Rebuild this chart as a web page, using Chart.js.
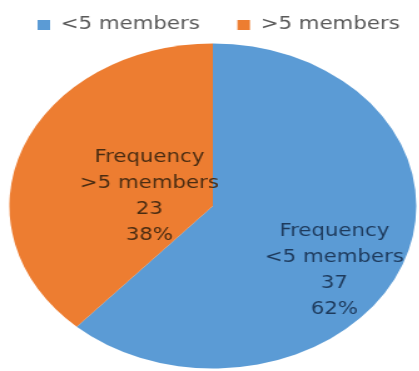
<!DOCTYPE html>
<html>
<head>
<meta charset="utf-8">
<script src="https://cdn.jsdelivr.net/npm/chart.js@4/dist/chart.umd.min.js"></script>
<style>
  html, body { margin: 0; padding: 0; background: #fff; overflow: hidden; }
  #wrap {
    position: absolute; left: 0; top: 0;
    width: 352px; height: 371px;
    transform-origin: 0 0;
    transform: scaleX(1.252);
  }
</style>
</head>
<body>
<div id="wrap"><canvas id="c" width="352" height="371"></canvas></div>
<script>
// Household size groups and how many households fall in each
const categories = ['<5 members', '>5 members'];
const frequency = [37, 23];
const sliceColors = ['#5B9BD5', '#ED7D31'];
const labelTextColors = ['#1E3A5C', '#4A2C12'];

const total = frequency.reduce((a, b) => a + b, 0);
const percentages = frequency.map(v => Math.round(v / total * 100) + '%');

// Multi-line labels drawn inside each slice: title, group, count, share
const sliceLabels = {
  id: 'sliceLabels',
  afterDatasetsDraw(chart, args, opts) {
    const { ctx } = chart;
    const meta = chart.getDatasetMeta(0);
    ctx.save();
    ctx.font = opts.font;
    ctx.textAlign = 'center';
    ctx.textBaseline = 'middle';
    meta.data.forEach((arc, i) => {
      const p = arc.getProps(['x', 'y', 'startAngle', 'endAngle', 'outerRadius'], true);
      const a = p.startAngle + (p.endAngle - p.startAngle) * opts.angleFrac[i];
      const r = p.outerRadius * opts.radiusFrac[i];
      const cx = p.x + Math.cos(a) * r;
      const cy = p.y + Math.sin(a) * r;
      const lines = ['Frequency', categories[i], String(frequency[i]), percentages[i]];
      const top = cy - (lines.length - 1) * opts.lineHeight / 2;
      ctx.fillStyle = labelTextColors[i];
      lines.forEach((t, k) => ctx.fillText(t, cx, top + k * opts.lineHeight));
    });
    ctx.restore();
  }
};

new Chart(document.getElementById('c'), {
  type: 'pie',
  data: {
    labels: categories,
    datasets: [{
      data: frequency,
      backgroundColor: sliceColors,
      borderWidth: 0
    }]
  },
  options: {
    responsive: false,
    animation: false,
    layout: { padding: { top: -13.5, bottom: 2.5, left: 0, right: 0 } },
    plugins: {
      legend: {
        position: 'top',
        align: 'start',
        labels: {
          boxWidth: 10,
          boxHeight: 10,
          padding: 30,
          color: '#595959',
          font: { family: 'DejaVu Sans', size: 17 }
        }
      },
      // empty strip on the right keeps the pie left of the full-width legend
      title: {
        display: true,
        position: 'right',
        text: '',
        padding: 0,
        font: { size: 12, lineHeight: 1 }
      },
      tooltip: { enabled: false },
      sliceLabels: {
        font: '17px "DejaVu Sans"',
        lineHeight: 26,
        angleFrac: [0.556, 0.424],
        radiusFrac: [0.716, 0.317]
      }
    }
  },
  plugins: [sliceLabels]
});
</script>
</body>
</html>
